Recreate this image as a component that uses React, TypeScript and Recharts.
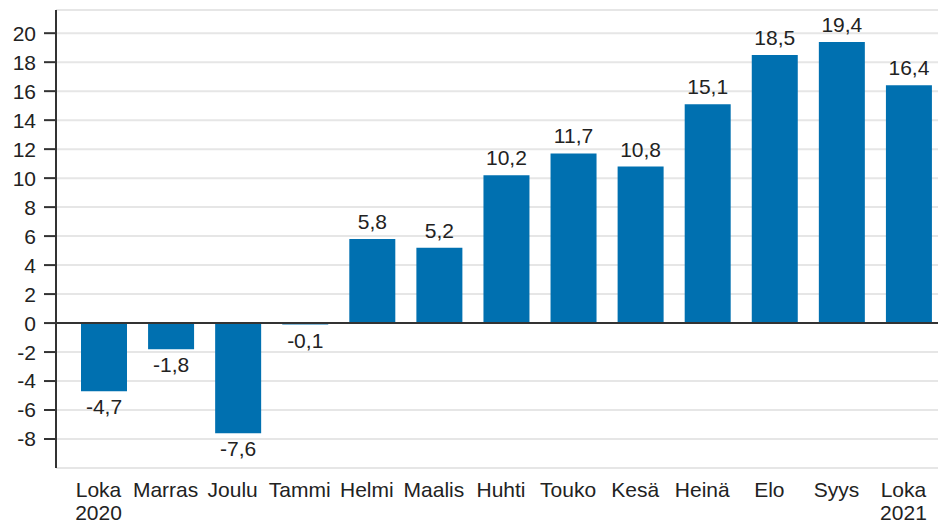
import { Bar, BarChart, CartesianGrid, LabelList, ReferenceLine, XAxis, YAxis } from "recharts";

const MONTHS = ["Loka", "Marras", "Joulu", "Tammi", "Helmi", "Maalis", "Huhti", "Touko", "Kesä", "Heinä", "Elo", "Syys", "Loka"];
const YEARS = ["2020", "", "", "", "", "", "", "", "", "", "", "", "2021"];
const VALUES = [-4.7, -1.8, -7.6, -0.1, 5.8, 5.2, 10.2, 11.7, 10.8, 15.1, 18.5, 19.4, 16.4];
const Y_TICKS = [-8, -6, -4, -2, 0, 2, 4, 6, 8, 10, 12, 14, 16, 18, 20];

const FONT = '"Liberation Sans", Arial, sans-serif';
const BAR_COLOR = "#0070b0";

const data = MONTHS.map((m, i) => ({ key: `${m}-${i}`, month: m, year: YEARS[i], value: VALUES[i] }));

function fmt(v: number): string {
  return v.toFixed(1).replace(".", ",");
}

function MonthTick(props: any) {
  const { x, y, index } = props;
  const d = data[index];
  return (
    <text x={x - 5} y={y} textAnchor="middle" fontSize={21} fontFamily={FONT} fill="#222">
      <tspan x={x - 5} dy={29}>{d.month}</tspan>
      {d.year && (
        <tspan x={x - 5} dy={23}>
          {d.year}
        </tspan>
      )}
    </text>
  );
}

function ValueLabel(props: any) {
  const { x, y, width, height, value } = props;
  const top = Math.min(y, y + height);
  const bottom = Math.max(y, y + height);
  const cx = x + width / 2;
  const ty = value < 0 ? bottom + 23 : top - 10;
  return (
    <text x={cx} y={ty} textAnchor="middle" fontSize={21} fontFamily={FONT} fill="#222">
      {fmt(value)}
    </text>
  );
}

export default function App() {
  return (
    <div style={{ position: "absolute", left: 0, top: 0, width: 938, height: 525, overflow: "hidden", background: "#fff" }}>
      <BarChart width={942} height={525} data={data} margin={{ top: 10, right: 0, bottom: 0, left: 0 }}>
        <CartesianGrid vertical={false} stroke="#e6e6e6" strokeWidth={2} />
        <XAxis
          dataKey="key"
          axisLine={false}
          tickLine={false}
          tickSize={0}
          tickMargin={0}
          height={57}
          interval={0}
          padding={{ left: 14, right: 0 }}
          tick={<MonthTick />}
        />
        <YAxis
          domain={[-10, 21.6]}
          ticks={Y_TICKS}
          allowDataOverflow
          width={56}
          interval={0}
          axisLine={{ stroke: "#333", strokeWidth: 2 }}
          tickLine={{ stroke: "#333", strokeWidth: 2 }}
          tickSize={12}
          tickMargin={8}
          tick={{ fontSize: 21, fontFamily: FONT, fill: "#222" }}
        />
        <ReferenceLine y={0} stroke="#333" strokeWidth={2} />
        <Bar dataKey="value" fill={BAR_COLOR} barSize={46} isAnimationActive={false}>
          <LabelList dataKey="value" content={<ValueLabel />} />
        </Bar>
      </BarChart>
    </div>
  );
}
